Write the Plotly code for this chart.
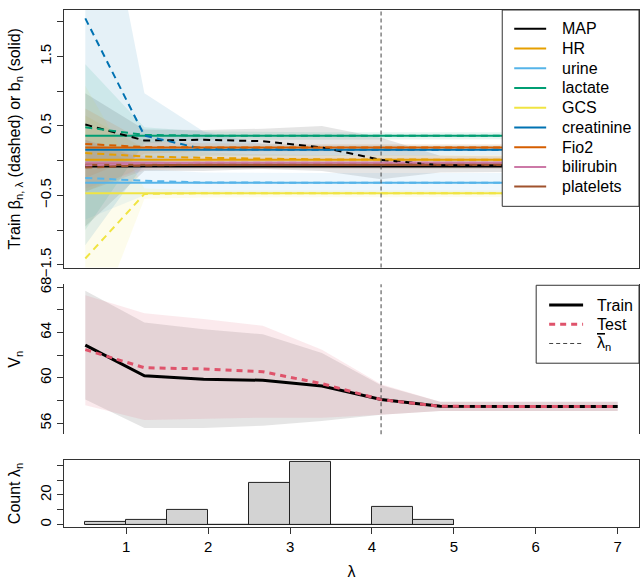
import plotly.graph_objects as go

# ---------------- data ----------------
lam = [0.5, 1.222, 1.944, 2.667, 3.389, 4.111, 4.833, 5.556, 6.278, 7.0]
lam_bar = 4.111

variables = ["MAP", "HR", "urine", "lactate", "GCS", "creatinine", "Fio2", "bilirubin", "platelets"]
colors = ["#000000", "#E69F00", "#56B4E9", "#009E73", "#F0E442", "#0072B2", "#D55E00", "#CC79A7", "#A0522D"]

# b_n (solid, constant)
b_n = [-0.085, 0.012, -0.32, 0.36, -0.47, 0.155, 0.19, -0.03, -0.06]

# beta_{n,lambda} (dashed)
beta_MAP = [0.52, 0.29, 0.30, 0.28, 0.19, 0.01, -0.065, -0.075, -0.08, -0.085]
beta_HR = [0.11, 0.06, 0.04, 0.025, 0.018, 0.015, 0.013, 0.012, 0.012, 0.012]
beta_urine = [-0.25, -0.29, -0.315, -0.32, -0.32, -0.32, -0.32, -0.32, -0.32, -0.32]
beta_lactate = [0.48, 0.37, 0.36, 0.36, 0.36, 0.36, 0.36, 0.36, 0.36, 0.36]
beta_GCS = [-1.41, -0.48, -0.47, -0.47, -0.47, -0.47, -0.47, -0.47, -0.47, -0.47]
beta_creatinine = [2.05, 0.36, 0.165, 0.155, 0.155, 0.155, 0.155, 0.155, 0.155, 0.155]
beta_Fio2 = [0.24, 0.195, 0.19, 0.19, 0.19, 0.19, 0.19, 0.19, 0.19, 0.19]
beta_bilirubin = [-0.07, -0.04, -0.03, -0.03, -0.03, -0.03, -0.03, -0.03, -0.03, -0.03]
beta_platelets = [-0.10, -0.07, -0.06, -0.06, -0.06, -0.06, -0.06, -0.06, -0.06, -0.06]

# confidence bands of beta
lo_MAP = [-0.95, -0.15, -0.15, -0.12, -0.15, -0.27, -0.17, -0.16, -0.16, -0.16]
up_MAP = [0.97, 0.45, 0.44, 0.46, 0.50, 0.33, 0.07, 0.06, 0.06, 0.06]
lo_HR = [-0.45, -0.08, -0.06, -0.05, -0.05, -0.05, -0.05, -0.05, -0.05, -0.05]
up_HR = [0.65, 0.18, 0.12, 0.09, 0.08, 0.08, 0.08, 0.08, 0.08, 0.08]
lo_urine = [-0.85, -0.50, -0.46, -0.45, -0.45, -0.45, -0.45, -0.45, -0.45, -0.45]
up_urine = [0.30, -0.12, -0.17, -0.18, -0.18, -0.18, -0.18, -0.18, -0.18, -0.18]
lo_lactate = [-1.00, 0.25, 0.30, 0.31, 0.31, 0.31, 0.31, 0.31, 0.31, 0.31]
up_lactate = [1.39, 0.48, 0.42, 0.41, 0.41, 0.41, 0.41, 0.41, 0.41, 0.41]
lo_GCS = [-2.75, -0.55, -0.53, -0.52, -0.52, -0.52, -0.52, -0.52, -0.52, -0.52]
up_GCS = [1.08, -0.40, -0.43, -0.43, -0.43, -0.43, -0.43, -0.43, -0.43, -0.43]
lo_creatinine = [-1.22, -0.05, 0.07, 0.08, 0.08, 0.08, 0.08, 0.08, 0.08, 0.08]
up_creatinine = [5.30, 0.97, 0.42, 0.24, 0.22, 0.22, 0.22, 0.22, 0.22, 0.22]
lo_Fio2 = [-0.25, 0.10, 0.13, 0.14, 0.14, 0.14, 0.14, 0.14, 0.14, 0.14]
up_Fio2 = [0.75, 0.28, 0.25, 0.24, 0.24, 0.24, 0.24, 0.24, 0.24, 0.24]
lo_bilirubin = [-0.40, -0.12, -0.10, -0.10, -0.10, -0.10, -0.10, -0.10, -0.10, -0.10]
up_bilirubin = [0.30, 0.06, 0.04, 0.04, 0.04, 0.04, 0.04, 0.04, 0.04, 0.04]
lo_platelets = [-0.45, -0.14, -0.12, -0.12, -0.12, -0.12, -0.12, -0.12, -0.12, -0.12]
up_platelets = [0.30, 0.02, 0.00, 0.00, 0.00, 0.00, 0.00, 0.00, 0.00, 0.00]

betas = [beta_MAP, beta_HR, beta_urine, beta_lactate, beta_GCS, beta_creatinine, beta_Fio2, beta_bilirubin, beta_platelets]
lows = [lo_MAP, lo_HR, lo_urine, lo_lactate, lo_GCS, lo_creatinine, lo_Fio2, lo_bilirubin, lo_platelets]
ups = [up_MAP, up_HR, up_urine, up_lactate, up_GCS, up_creatinine, up_Fio2, up_bilirubin, up_platelets]

# V_n panel
V_train = [62.9, 60.2, 59.9, 59.8, 59.3, 58.1, 57.5, 57.48, 57.48, 57.48]
V_test = [62.5, 60.9, 60.8, 60.55, 59.5, 58.1, 57.5, 57.48, 57.48, 57.48]
train_lo = [58.1, 55.6, 55.6, 55.8, 56.2, 56.75, 57.1, 57.1, 57.1, 57.1]
train_up = [67.7, 64.9, 64.3, 63.85, 62.2, 59.37, 57.9, 57.9, 57.9, 57.9]
test_lo = [57.6, 56.3, 56.4, 56.5, 56.5, 56.75, 57.1, 57.1, 57.1, 57.1]
test_up = [67.3, 65.7, 65.2, 64.6, 62.5, 59.45, 57.9, 57.9, 57.9, 57.9]

# histogram of lambda_n
bin_edges = [0.5, 1.0, 1.5, 2.0, 2.5, 3.0, 3.5, 4.0, 4.5, 5.0]
counts = [2, 3, 10, 0, 28, 42, 0, 12, 3]

legend2_labels = ["Train", "Test", "<span style='text-decoration:overline'>λ</span><sub>n</sub>"]

# ---------------- figure ----------------
FONT = "Liberation Sans, Arial, sans-serif"
FS = 15
W, H = 642, 580
ML, MR, MT, MB = 64, 2, 3, 53
PW, PH = W - ML - MR, H - MT - MB


def px_x(p):
    return (p - ML) / PW


def px_y(p):
    return (H - MB - p) / PH


def rgba(hexc, a):
    h = hexc.lstrip("#")
    r, g, b = int(h[0:2], 16), int(h[2:4], 16), int(h[4:6], 16)
    return f"rgba({r},{g},{b},{a})"


fig = go.Figure()

# top panel: bands
for name, col, lo, up in zip(variables, colors, lows, ups):
    fig.add_trace(go.Scatter(
        x=lam + lam[::-1], y=up + lo[::-1], fill="toself",
        fillcolor=rgba(col, 0.1), line=dict(width=0), mode="lines",
        showlegend=False, hoverinfo="skip", xaxis="x", yaxis="y"))
# solid b_n
for name, col, b in zip(variables, colors, b_n):
    fig.add_trace(go.Scatter(
        x=[lam[0], lam[-1]], y=[b, b], mode="lines",
        line=dict(color=col, width=2), name=name, showlegend=False,
        xaxis="x", yaxis="y"))
# dashed beta
for name, col, be in zip(variables, colors, betas):
    fig.add_trace(go.Scatter(
        x=lam, y=be, mode="lines", line=dict(color=col, width=2, dash="7px,5px"),
        showlegend=False, xaxis="x", yaxis="y"))

# middle panel
fig.add_trace(go.Scatter(x=lam + lam[::-1], y=train_up + train_lo[::-1], fill="toself",
                         fillcolor="rgba(0,0,0,0.1)", line=dict(width=0), mode="lines",
                         showlegend=False, hoverinfo="skip", xaxis="x", yaxis="y2"))
fig.add_trace(go.Scatter(x=lam + lam[::-1], y=test_up + test_lo[::-1], fill="toself",
                         fillcolor=rgba("#DF536B", 0.12), line=dict(width=0), mode="lines",
                         showlegend=False, hoverinfo="skip", xaxis="x", yaxis="y2"))
fig.add_trace(go.Scatter(x=lam, y=V_train, mode="lines", line=dict(color="black", width=3),
                         name="Train", showlegend=False, xaxis="x", yaxis="y2"))
fig.add_trace(go.Scatter(x=lam, y=V_test, mode="lines",
                         line=dict(color="#DF536B", width=3, dash="6px,5px"),
                         name="Test", showlegend=False, xaxis="x", yaxis="y2"))

# bottom panel: histogram
centers = [(a + b) / 2 for a, b in zip(bin_edges[:-1], bin_edges[1:])]
widths = [b - a for a, b in zip(bin_edges[:-1], bin_edges[1:])]
fig.add_trace(go.Scatter(x=[bin_edges[0], bin_edges[-1]], y=[0, 0], mode="lines",
                         line=dict(color="#222", width=1), showlegend=False,
                         hoverinfo="skip", xaxis="x3", yaxis="y3"))
fig.add_trace(go.Bar(x=centers, y=counts, width=widths,
                     marker=dict(color="#D3D3D3", line=dict(color="#222", width=1)),
                     showlegend=False, xaxis="x3", yaxis="y3"))

# vertical lambda-bar lines
for yr in ["y domain", "y2 domain"]:
    fig.add_shape(type="line", xref="x", yref=yr, x0=lam_bar, x1=lam_bar, y0=0, y1=1,
                  line=dict(color="#444", width=1, dash="4px,3px"))

# ---- manual legends (R-style) ----
LEG_FS = 16
# top legend
fig.add_shape(type="rect", xref="paper", yref="paper",
              x0=px_x(503), x1=px_x(640), y0=px_y(202), y1=px_y(3),
              fillcolor="white", line=dict(color="#333", width=1), layer="above")
for i, (name, col) in enumerate(zip(variables, colors)):
    yy = px_y(22 + 20 * i)
    fig.add_shape(type="line", xref="paper", yref="paper", x0=px_x(515), x1=px_x(547),
                  y0=yy, y1=yy, line=dict(color=col, width=2), layer="above")
    fig.add_annotation(xref="paper", yref="paper", x=px_x(561), y=yy, text=name,
                       showarrow=False, xanchor="left", yanchor="middle",
                       font=dict(size=LEG_FS, color="black"))
# middle legend
fig.add_shape(type="rect", xref="paper", yref="paper",
              x0=px_x(537), x1=px_x(640), y0=px_y(361), y1=px_y(282),
              fillcolor="white", line=dict(color="#333", width=1), layer="above")
leg2_styles = [dict(color="black", width=3), dict(color="#DF536B", width=3, dash="6px,5px"),
               dict(color="#444", width=1, dash="4px,3px")]
for i, (lab, st) in enumerate(zip(legend2_labels, leg2_styles)):
    yy = px_y(302 + 19.5 * i)
    fig.add_shape(type="line", xref="paper", yref="paper", x0=px_x(550), x1=px_x(584),
                  y0=yy, y1=yy, line=st, layer="above")
    fig.add_annotation(xref="paper", yref="paper", x=px_x(596), y=yy, text=lab,
                       showarrow=False, xanchor="left", yanchor="middle",
                       font=dict(size=LEG_FS, color="black"))

axis_common = dict(showline=True, mirror=True, linecolor="#333", linewidth=1,
                   showgrid=False, zeroline=False, ticks="outside", ticklen=6,
                   tickcolor="#333", tickfont=dict(size=FS, color="black"))

xr = [0.24, 7.26]
TFS = 16

fig.update_layout(
    width=W, height=H,
    margin=dict(l=ML, r=MR, t=MT, b=MB),
    paper_bgcolor="white", plot_bgcolor="white",
    font=dict(family=FONT, size=FS, color="black"),
    showlegend=False,
    xaxis=dict(domain=[0, 1], range=xr, showticklabels=False, ticks="",
               showline=True, mirror=True, linecolor="#333", linewidth=1,
               showgrid=False, zeroline=False, anchor="y"),
    yaxis=dict(domain=[px_y(264), px_y(3)], range=[-1.54, 2.17], anchor="x",
               tickvals=[-1.5, -0.5, 0.5, 1.5], tickangle=-90,
               minor=dict(tickvals=[-1.0, 0.0, 1.0, 2.0], ticks="outside", ticklen=6,
                          tickcolor="#333", showgrid=False),
               title=dict(text="Train β<sub>n, λ</sub> (dashed) or b<sub>n</sub> (solid)",
                          font=dict(size=TFS), standoff=12),
               **axis_common),
    xaxis2=dict(domain=[0, 1], range=xr, showticklabels=False, ticks="",
                showline=True, mirror=True, linecolor="#333", linewidth=1,
                showgrid=False, zeroline=False, anchor="y2", matches="x"),
    yaxis2=dict(domain=[px_y(433), px_y(281)], range=[55.04, 68.26], anchor="x",
                tickvals=[56, 60, 64, 68], tickangle=-90,
                minor=dict(tickvals=[58, 62, 66], ticks="outside", ticklen=6,
                           tickcolor="#333", showgrid=False),
                title=dict(text="V<sub>n</sub>", font=dict(size=TFS), standoff=12),
                **axis_common),
    xaxis3=dict(domain=[0, 1], range=xr, anchor="y3",
                tickvals=[1, 2, 3, 4, 5, 6, 7],
                title=dict(text="λ", font=dict(size=TFS), standoff=11),
                **axis_common),
    yaxis3=dict(domain=[0, px_y(459)], range=[-1.68, 43.68], anchor="x3",
                tickvals=[0, 20], tickangle=-90,
                minor=dict(tickvals=[10, 30, 40], ticks="outside", ticklen=6,
                           tickcolor="#333", showgrid=False),
                title=dict(text="Count λ<sub>n</sub>", font=dict(size=TFS), standoff=12),
                **axis_common),
    bargap=0,
)

fig.write_html("out.html", config={"displayModeBar": False},
               post_script="document.body.style.margin='0';")
